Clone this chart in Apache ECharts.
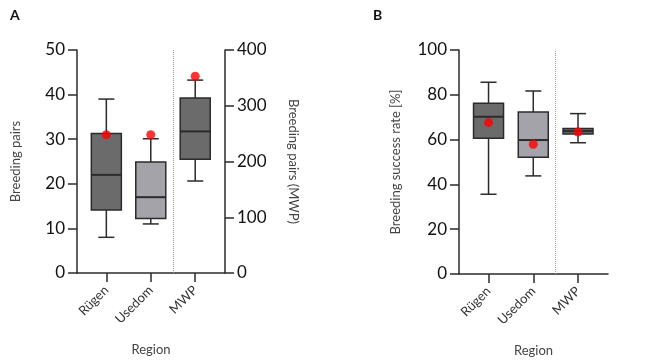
<!DOCTYPE html>
<html>
<head>
<meta charset="utf-8">
<script src="https://cdn.jsdelivr.net/npm/echarts@6/dist/echarts.min.js"></script>
<style>
  html, body { margin: 0; padding: 0; background: #fff; }
  #chart { width: 661px; height: 362px; }
</style>
</head>
<body>
<div id="chart"></div>
<script>
  // categories on the x axis (placed at 1, 2, 3)
  const categories = ['Rügen', 'Usedom', 'MWP'];

  // panel A: breeding pairs, box = [min, Q1, median, Q3, max]
  const pairsBoxes = [
    [8.0, 14.1, 22.0, 31.3, 39.0],   // Rügen
    [11.0, 12.2, 17.0, 24.9, 30.1]   // Usedom
  ];
  const pairsMwpBox = [165, 204, 254, 314, 346];   // MWP, right axis
  const pairsDots = [31.0, 31.0];
  const pairsMwpDot = 353;

  // panel B: breeding success rate [%]
  const successBoxes = [
    [35.6, 60.6, 70.2, 76.2, 85.6],
    [43.8, 52.1, 59.8, 72.3, 81.7],
    [58.6, 62.5, 63.8, 65.0, 71.6]
  ];
  const successDots = [67.6, 57.9, 63.4];

  // axis ticks
  const pairsTicks = {min: 0, max: 50, interval: 10};
  const pairsMwpTicks = {min: 0, max: 400, interval: 100};
  const successTicks = {min: 0, max: 100, interval: 20};

  const dark = '#6b6b6b', light = '#a3a3a9', ink = '#2b2b2b';
  const font = 'Lato, "Open Sans", sans-serif';

  function boxRenderer(fills) {
    return function (params, api) {
      const x = api.value(0);
      const lo = api.coord([x, api.value(1)]);
      const q1 = api.coord([x, api.value(2)]);
      const md = api.coord([x, api.value(3)]);
      const q3 = api.coord([x, api.value(4)]);
      const hi = api.coord([x, api.value(5)]);
      const cx = lo[0], half = 15, cap = 8;
      const line = (x1, y1, x2, y2, w) => ({
        type: 'line', shape: {x1, y1, x2, y2}, style: {stroke: ink, lineWidth: w || 1.5}
      });
      return {
        type: 'group',
        children: [
          line(cx, hi[1], cx, q3[1]),
          line(cx, q1[1], cx, lo[1]),
          line(cx - cap, hi[1], cx + cap, hi[1]),
          line(cx - cap, lo[1], cx + cap, lo[1]),
          {type: 'rect', shape: {x: cx - half, y: q3[1], width: half * 2, height: q1[1] - q3[1]},
            style: {fill: fills[params.dataIndex], stroke: ink, lineWidth: 1.5}},
          line(cx - half, md[1], cx + half, md[1], 2)
        ]
      };
    };
  }

  const xAxisBase = (gridIndex) => ({
    gridIndex,
    type: 'value',
    min: 0.34,
    max: 3.67,
    name: 'Region',
    nameLocation: 'middle',
    nameGap: 70,
    nameTextStyle: {fontFamily: font, fontSize: 13, color: '#444'},
    axisLine: {show: true, lineStyle: {color: ink, width: 1.5}},
    axisTick: {show: true, customValues: [1, 2, 3], length: 9, lineStyle: {color: ink, width: 1.5}},
    axisLabel: {
      customValues: [1, 2, 3],
      formatter: v => categories[Math.round(v) - 1],
      rotate: 45,
      margin: 15,
      fontFamily: font,
      fontSize: 13,
      color: '#333'
    },
    splitLine: {show: false}
  });

  const yAxisBase = (gridIndex, ticks, name, position, rotate, gap) => ({
    gridIndex,
    type: 'value',
    position,
    min: ticks.min,
    max: ticks.max,
    interval: ticks.interval,
    name,
    nameLocation: 'middle',
    nameRotate: rotate,
    nameGap: gap,
    nameTextStyle: {fontFamily: font, fontSize: 13, color: '#444'},
    axisLine: {show: true, lineStyle: {color: ink, width: 1.5}},
    axisTick: {show: true, length: 9, lineStyle: {color: ink, width: 1.5}},
    axisLabel: {fontFamily: font, fontSize: 17, color: '#111', margin: 12},
    splitLine: {show: false}
  });

  const divider = {
    silent: true,
    symbol: 'none',
    label: {show: false},
    lineStyle: {type: 'dotted', color: '#999', width: 1},
    data: [{xAxis: 2.5}]
  };

  const chart = echarts.init(document.getElementById('chart'));
  chart.setOption({
    animation: false,
    backgroundColor: '#fff',
    title: [
      {text: 'A', left: 5, top: 3, textStyle: {fontFamily: font, fontSize: 14, fontWeight: 'bold', color: '#111'}},
      {text: 'B', left: 368, top: 3, textStyle: {fontFamily: font, fontSize: 14, fontWeight: 'bold', color: '#111'}}
    ],
    grid: [
      {left: 77, top: 50, width: 148, height: 223},
      {left: 459, top: 50, width: 149, height: 224}
    ],
    xAxis: [xAxisBase(0), xAxisBase(1)],
    yAxis: [
      yAxisBase(0, pairsTicks, 'Breeding pairs', 'left', 90, 55),
      yAxisBase(0, pairsMwpTicks, 'Breeding pairs (MWP)', 'right', -90, 62),
      yAxisBase(1, successTicks, 'Breeding success rate [%]', 'left', 90, 57)
    ],
    series: [
      {
        type: 'custom', xAxisIndex: 0, yAxisIndex: 0,
        renderItem: boxRenderer([dark, light]),
        encode: {x: 0, y: [1, 2, 3, 4, 5]},
        data: pairsBoxes.map((b, i) => [i + 1].concat(b)),
        z: 2
      },
      {
        type: 'custom', xAxisIndex: 0, yAxisIndex: 1,
        renderItem: boxRenderer([dark]),
        encode: {x: 0, y: [1, 2, 3, 4, 5]},
        data: [[3].concat(pairsMwpBox)],
        z: 2
      },
      {
        type: 'scatter', xAxisIndex: 0, yAxisIndex: 0,
        symbolSize: 9, itemStyle: {color: '#f00'},
        data: pairsDots.map((v, i) => [i + 1, v]),
        z: 5,
        markLine: divider
      },
      {
        type: 'scatter', xAxisIndex: 0, yAxisIndex: 1,
        symbolSize: 9, itemStyle: {color: '#f00'},
        data: [[3, pairsMwpDot]],
        z: 5
      },
      {
        type: 'custom', xAxisIndex: 1, yAxisIndex: 2,
        renderItem: boxRenderer([dark, light, dark]),
        encode: {x: 0, y: [1, 2, 3, 4, 5]},
        data: successBoxes.map((b, i) => [i + 1].concat(b)),
        z: 2
      },
      {
        type: 'scatter', xAxisIndex: 1, yAxisIndex: 2,
        symbolSize: 9, itemStyle: {color: '#f00'},
        data: successDots.map((v, i) => [i + 1, v]),
        z: 5,
        markLine: divider
      }
    ]
  });
</script>
</body>
</html>
